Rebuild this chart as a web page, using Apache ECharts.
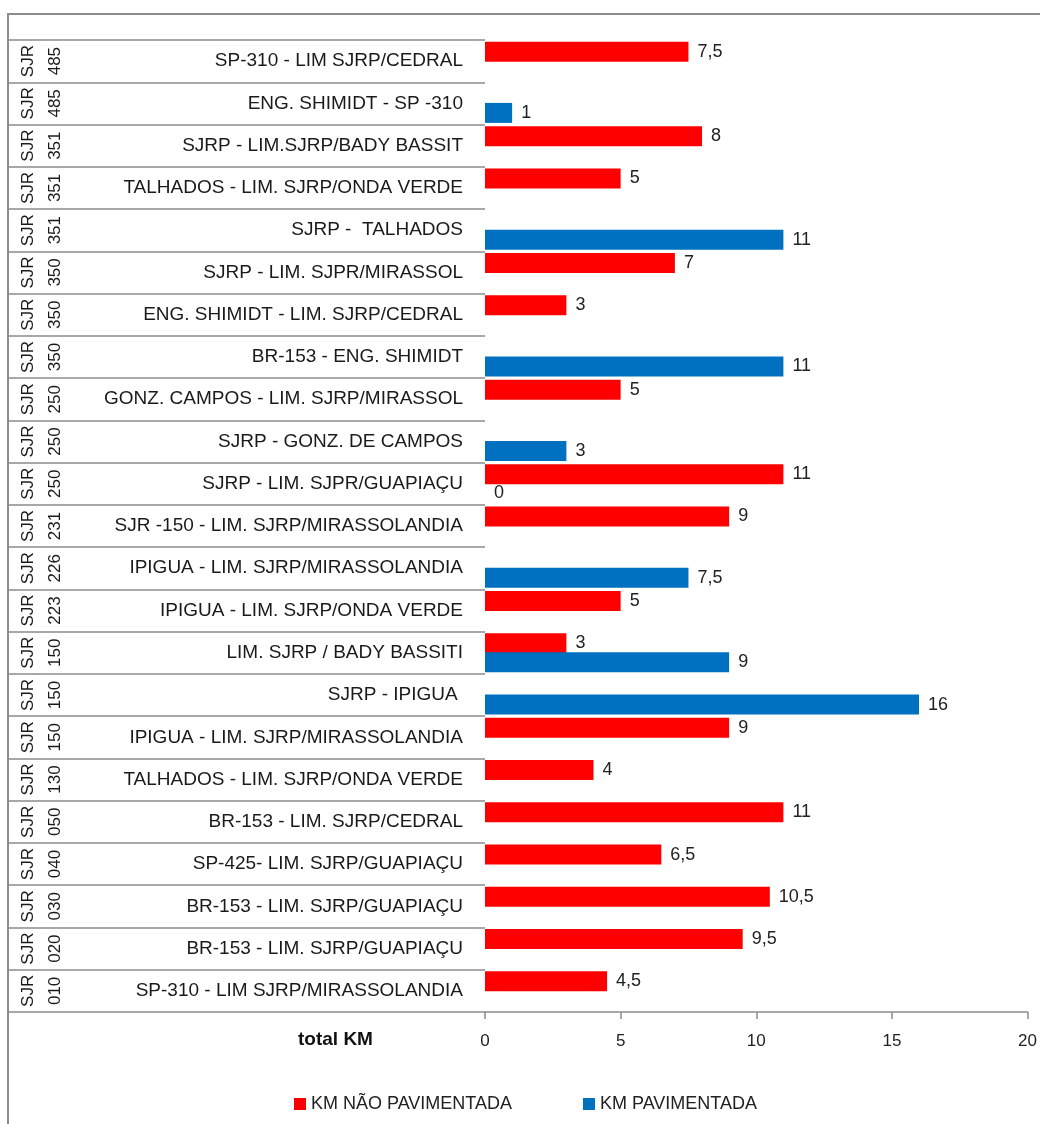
<!DOCTYPE html>
<html>
<head>
<meta charset="utf-8">
<script src="https://cdn.jsdelivr.net/npm/echarts@6/dist/echarts.min.js"></script>
<style>
html,body{margin:0;padding:0;background:#fff;}
#chart{width:1040px;height:1124px;}
</style>
</head>
<body>
<div id="chart"></div>
<script>
// Categories, top to bottom as in the reference
const codes = [
  'SJR\n485','SJR\n485','SJR\n351','SJR\n351','SJR\n351','SJR\n350','SJR\n350','SJR\n350',
  'SJR\n250','SJR\n250','SJR\n250','SJR\n231','SJR\n226','SJR\n223','SJR\n150','SJR\n150',
  'SJR\n150','SJR\n130','SJR\n050','SJR\n040','SJR\n030','SJR\n020','SJR\n010'
];
const roads = [
  'SP-310 - LIM SJRP/CEDRAL',
  'ENG. SHIMIDT - SP -310',
  'SJRP - LIM.SJRP/BADY BASSIT',
  'TALHADOS - LIM. SJRP/ONDA VERDE',
  'SJRP -  TALHADOS',
  'SJRP - LIM. SJPR/MIRASSOL',
  'ENG. SHIMIDT - LIM. SJRP/CEDRAL',
  'BR-153 - ENG. SHIMIDT',
  'GONZ. CAMPOS - LIM. SJRP/MIRASSOL',
  'SJRP - GONZ. DE CAMPOS',
  'SJRP - LIM. SJPR/GUAPIAÇU',
  'SJR -150 - LIM. SJRP/MIRASSOLANDIA',
  'IPIGUA - LIM. SJRP/MIRASSOLANDIA',
  'IPIGUA - LIM. SJRP/ONDA VERDE',
  'LIM. SJRP / BADY BASSITI',
  'SJRP - IPIGUA ',
  'IPIGUA - LIM. SJRP/MIRASSOLANDIA',
  'TALHADOS - LIM. SJRP/ONDA VERDE',
  'BR-153 - LIM. SJRP/CEDRAL',
  'SP-425- LIM. SJRP/GUAPIAÇU',
  'BR-153 - LIM. SJRP/GUAPIAÇU',
  'BR-153 - LIM. SJRP/GUAPIAÇU',
  'SP-310 - LIM SJRP/MIRASSOLANDIA'
];
const naoPavimentada = [7.5, null, 8, 5, null, 7, 3, null, 5, null, 11, 9, null, 5, 3, null, 9, 4, 11, 6.5, 10.5, 9.5, 4.5];
const pavimentada    = [null, 1, null, null, 11, null, null, 11, null, 3, 0, null, 7.5, null, 9, 16, null, null, null, null, null, null, null];
const seriesNames = ['KM NÃO PAVIMENTADA', 'KM PAVIMENTADA'];
const xTicks = [0, 5, 10, 15, 20];

const FONT = 'Liberation Sans, Arial, sans-serif';
const fmt = p => String(p.value).replace('.', ',');

const chart = echarts.init(document.getElementById('chart'), null, {renderer: 'canvas'});
chart.setOption({
  animation: false,
  backgroundColor: '#fff',
  textStyle: {fontFamily: FONT},
  graphic: [{
    type: 'polyline',
    silent: true,
    shape: {points: [[8, 1124], [8, 14], [1040, 14]]},
    style: {stroke: '#8c8c8c', lineWidth: 2, fill: null}
  }],
  title: {
    text: 'total KM',
    left: 293, top: 1025,
    textStyle: {fontSize: 19, fontWeight: 'bold', color: '#111', fontFamily: FONT}
  },
  legend: {
    left: 289, top: 1090,
    itemWidth: 12, itemHeight: 12, itemGap: 71,
    icon: 'rect',
    textStyle: {fontSize: 18, color: '#222', fontFamily: FONT},
    data: seriesNames
  },
  grid: {left: 485, right: 11, top: 40, bottom: 112, containLabel: false},
  xAxis: {
    type: 'value', min: xTicks[0], max: xTicks[xTicks.length - 1], interval: 5,
    axisLine: {show: true, lineStyle: {color: '#8c8c8c', width: 1.5}},
    axisTick: {show: true, length: 7, lineStyle: {color: '#8c8c8c', width: 1.5}},
    splitLine: {show: false},
    axisLabel: {fontSize: 17, color: '#222', margin: 21, fontFamily: FONT}
  },
  yAxis: [{
    type: 'category', inverse: true, data: roads, position: 'left',
    axisLine: {show: false},
    axisTick: {show: true, length: 477, lineStyle: {color: '#8c8c8c', width: 1.5}},
    axisLabel: {interval: 0, fontSize: 19, color: '#1a1a1a', margin: 22, fontFamily: FONT}
  }, {
    type: 'category', inverse: true, data: codes, position: 'left', offset: 400,
    axisLine: {show: false},
    axisTick: {show: false},
    axisLabel: {interval: 0, rotate: 90, fontSize: 17, lineHeight: 27, color: '#1a1a1a', margin: 16, fontFamily: FONT}
  }],
  series: [{
    name: seriesNames[0], type: 'bar', yAxisIndex: 0, data: naoPavimentada,
    barWidth: 20, barGap: '-5%',
    itemStyle: {color: '#ff0000'},
    label: {show: true, position: 'right', distance: 9, fontSize: 18, color: '#222', formatter: fmt, fontFamily: FONT}
  }, {
    name: seriesNames[1], type: 'bar', yAxisIndex: 0, data: pavimentada,
    barWidth: 20, barGap: '-5%',
    itemStyle: {color: '#0070c0'},
    label: {show: true, position: 'right', distance: 9, fontSize: 18, color: '#222', formatter: fmt, fontFamily: FONT}
  }]
});
</script>
</body>
</html>
